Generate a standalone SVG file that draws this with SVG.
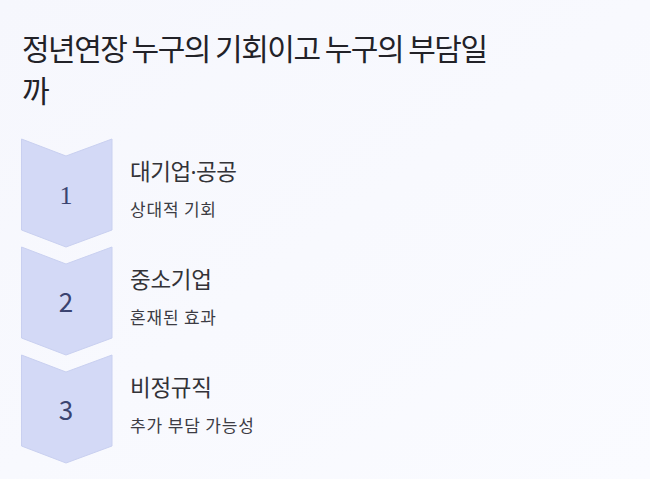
<svg xmlns="http://www.w3.org/2000/svg" width="650" height="479" viewBox="0 0 650 479">
<defs>
<linearGradient id="bg" x1="0" y1="0" x2="1" y2="1">
<stop offset="0" stop-color="#f6f7fd"/>
<stop offset="1" stop-color="#fafbff"/>
</linearGradient>
<style>
.title{font-family:"Noto Sans CJK KR","Noto Sans",sans-serif;font-size:30px;fill:#222228}
.chev{fill:#d3d9f6;stroke:#c9d0f0;stroke-width:1}
.num{font-family:"Noto Sans CJK KR","Noto Sans",sans-serif;font-size:26px;fill:#3a4370;text-anchor:middle}
.lab{font-family:"Noto Sans CJK KR","Noto Sans",sans-serif;font-size:22.5px;fill:#333338}
.sub{font-family:"Noto Sans CJK KR","Noto Sans",sans-serif;font-size:17px;fill:#3c3c44}
</style>
</defs>
<rect width="650" height="479" fill="url(#bg)"/>
<text class="title" x="22" y="60" textLength="466" lengthAdjust="spacing">정년연장 누구의 기회이고 누구의 부담일</text>
<text class="title" x="22" y="102">까</text>
<g id="connectors"/>
<g id="step1">
<path class="chev" d="M21.5,139 L66,156 L112,139 L112,230 L66,247 L21.5,230 Z"/>
<text class="num" x="66" y="204" style="font-family:'Liberation Serif',serif">1</text>
<text class="lab" x="130" y="180" textLength="107" lengthAdjust="spacing">대기업<tspan style="font-family:'Noto Sans',sans-serif">·</tspan>공공</text>
<text class="sub" x="130" y="216" textLength="86" lengthAdjust="spacing">상대적 기회</text>
</g>
<g id="step2">
<path class="chev" d="M21.5,247 L66,264 L112,247 L112,338 L66,355 L21.5,338 Z"/>
<text class="num" x="66" y="312">2</text>
<text class="lab" x="130" y="288" textLength="82" lengthAdjust="spacing">중소기업</text>
<text class="sub" x="130" y="324" textLength="86" lengthAdjust="spacing">혼재된 효과</text>
</g>
<g id="step3">
<path class="chev" d="M21.5,355 L66,372 L112,355 L112,446 L66,463 L21.5,446 Z"/>
<text class="num" x="66" y="420">3</text>
<text class="lab" x="130" y="396" textLength="82" lengthAdjust="spacing">비정규직</text>
<text class="sub" x="130" y="432" textLength="124" lengthAdjust="spacing">추가 부담 가능성</text>
</g>
</svg>
